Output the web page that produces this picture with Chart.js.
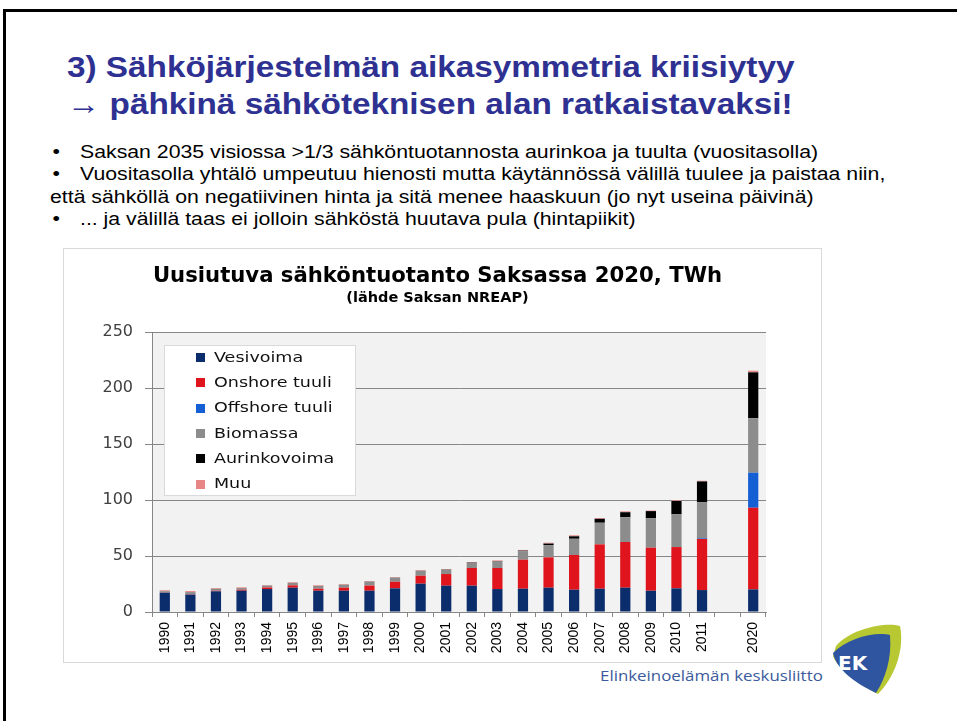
<!DOCTYPE html>
<html>
<head>
<meta charset="utf-8">
<script src="https://cdn.jsdelivr.net/npm/chart.js@4/dist/chart.umd.min.js"></script>
<style>
  html, body { margin: 0; padding: 0; background: #fff; }
  body { width: 957px; height: 721px; position: relative; overflow: hidden; font-family: "Liberation Sans", Arial, sans-serif; }
  #frame { position: absolute; left: 3px; top: 9px; width: 1000px; height: 800px; border-top: 3px solid #000; border-left: 3px solid #000; }
  #title { position: absolute; left: 67px; top: 48px; margin: 0; font: bold 30px "Liberation Sans", Arial, sans-serif; line-height: 37px; color: #2E3192; white-space: nowrap; transform: scaleX(1.11); transform-origin: 0 0; }
  #bullets { position: absolute; left: 50px; top: 141px; font: 17.5px "Liberation Sans", Arial, sans-serif; line-height: 22.4px; color: #000; white-space: nowrap; transform: scaleX(1.215); transform-origin: 0 0; }
  #bullets .b { display: inline-block; width: 24.7px; padding-left: 2px; box-sizing: border-box; }
  #chartbox { position: absolute; left: 63px; top: 248px; width: 757px; height: 413px; border: 1px solid #D9D9D9; background: #fff; }
  #chartbox canvas { display: block; }
  #ektext { position: absolute; left: 600px; top: 665px; font: 15px "Open Sans", sans-serif; color: #3A5A9C; white-space: nowrap; transform: scaleX(1.125); transform-origin: 0 0; }
  #logo { position: absolute; left: 830px; top: 622px; }
</style>
</head>
<body>
<div id="frame"></div>
<h1 id="title">3) Sähköjärjestelmän aikasymmetria kriisiytyy<br>→ pähkinä sähköteknisen alan ratkaistavaksi!</h1>
<div id="bullets">
  <div><span class="b">•</span>Saksan 2035 visiossa &gt;1/3 sähköntuotannosta aurinkoa ja tuulta (vuositasolla)</div>
  <div><span class="b">•</span>Vuositasolla yhtälö umpeutuu hienosti mutta käytännössä välillä tuulee ja paistaa niin,</div>
  <div>että sähköllä on negatiivinen hinta ja sitä menee haaskuun (jo nyt useina päivinä)</div>
  <div><span class="b">•</span>... ja välillä taas ei jolloin sähköstä huutava pula (hintapiikit)</div>
</div>
<div id="chartbox"><canvas id="c" width="757" height="413"></canvas></div>
<div id="ektext">Elinkeinoelämän keskusliitto</div>
<svg id="logo" width="76" height="76" viewBox="0 0 76 76">
  <path d="M6,24 C22,6 56,0 70,4 C75,28 64,56 48,72 C32,64 8,48 3,34 Z" fill="#B7C832"/>
  <path d="M3,31 C17,16 46,9 60,13 C62,37 55,57 46,71 C31,64 7,50 3,31 Z" fill="#2F54A0"/>
  <text x="8" y="48" font-family="DejaVu Sans" font-weight="bold" font-size="20" fill="#fff">EK</text>
</svg>
<script>
// ---- data ----
const categories = ["1990","1991","1992","1993","1994","1995","1996","1997","1998","1999","2000","2001","2002","2003","2004","2005","2006","2007","2008","2009","2010","2011","","2020"];
const seriesNames = ["Vesivoima","Onshore tuuli","Offshore tuuli","Biomassa","Aurinkovoima","Muu"];
const vesivoima    = [17.2,15.5,18.5,19.0,20.5,21.7,19.0,19.0,19.0,21.1,25.3,23.5,23.5,20.5,20.8,21.7,19.9,20.8,21.7,19.0,21.1,19.6,null,20.2];
const onshoreTuuli = [0.1,0.3,0.5,0.9,1.4,2.1,1.8,2.7,4.6,5.9,7.1,10.4,15.8,18.8,25.9,27.1,31.0,39.6,40.8,38.4,36.9,45.6,null,72.9];
const offshoreTuuli= [0,0,0,0,0,0,0,0,0,0,0,0,0,0,0,0,0,0,0,0,0,0.6,null,31.3];
const biomassa     = [1.3,2.0,1.8,1.5,1.7,2.2,2.5,2.7,3.4,3.6,4.3,3.8,4.5,5.8,7.5,11.0,14.5,19.3,22.1,26.2,29.2,32.1,null,48.6];
const aurinkovoima = [0,0,0,0,0,0,0,0,0.1,0.1,0.1,0.2,0.3,0.4,0.6,1.3,2.2,3.5,4.5,6.5,11.9,18.7,null,41.0];
const muu          = [0.8,0.9,0.6,0.6,0.5,0.6,0.6,0.6,0.6,0.5,0.5,0.5,0.5,0.6,0.6,0.8,0.9,0.7,0.8,0.5,0.6,0.6,null,1.5];
const yTicks = [0,50,100,150,200,250];
const chartTitle = "Uusiutuva sähköntuotanto Saksassa 2020, TWh";
const chartSubtitle = "(lähde Saksan NREAP)";

const colors = ["#0B2D6C","#E0141C","#145FD4","#8C8C8C","#000000","#E88585"];
const seriesData = [vesivoima, onshoreTuuli, offshoreTuuli, biomassa, aurinkovoima, muu];

const plotBg = {
  id: 'plotBg',
  beforeDraw(chart) {
    const {ctx, chartArea: a} = chart;
    ctx.save();
    ctx.fillStyle = '#F2F2F2';
    ctx.fillRect(a.left, a.top, a.right - a.left, a.bottom - a.top);
    ctx.restore();
  }
};

const innerLegend = {
  id: 'innerLegend',
  afterDatasetsDraw(chart) {
    const {ctx, chartArea: a} = chart;
    const x = a.left + 12, y = a.top + 13, w = 192, h = 151;
    ctx.save();
    ctx.fillStyle = '#fff';
    ctx.fillRect(x, y, w, h);
    ctx.strokeStyle = '#D9D9D9';
    ctx.lineWidth = 1;
    ctx.strokeRect(x + 0.5, y + 0.5, w - 1, h - 1);
    ctx.font = '14.6px "DejaVu Sans"';
    ctx.textBaseline = 'middle';
    chart.data.datasets.forEach((ds, i) => {
      const cy = y + 12.5 + i * 25.3;
      ctx.fillStyle = ds.backgroundColor;
      ctx.fillRect(x + 32, Math.round(cy - 4.5), 9, 9);
      ctx.fillStyle = '#111';
      ctx.save();
      ctx.translate(x + 50, cy + 0.5);
      ctx.scale(1.2, 1);
      ctx.fillText(ds.label, 0, 0);
      ctx.restore();
    });
    ctx.restore();
  }
};

new Chart(document.getElementById('c'), {
  type: 'bar',
  data: {
    labels: categories,
    datasets: seriesNames.map((n, i) => ({
      label: n,
      data: seriesData[i],
      backgroundColor: colors[i],
      borderWidth: 0,
      barPercentage: 0.4,
      categoryPercentage: 1.0
    }))
  },
  options: {
    responsive: false,
    animation: false,
    devicePixelRatio: 1,
    layout: { padding: { top: 14.7, left: 0, right: 10, bottom: 0 } },
    plugins: {
      legend: { display: false },
      tooltip: { enabled: false },
      title: {
        display: true, text: chartTitle, color: '#000',
        font: { family: 'DejaVu Sans', size: 21.2, weight: 'bold', lineHeight: 1.2 },
        padding: { top: 0, bottom: 0 }
      },
      subtitle: {
        display: true, text: chartSubtitle, color: '#000',
        font: { family: 'DejaVu Sans', size: 14.5, weight: 'bold', lineHeight: 1.2 },
        padding: { top: 0, bottom: 25.5 }
      }
    },
    scales: {
      x: {
        stacked: true,
        afterFit(s) { s.height = 50; },
        grid: { offset: true, drawOnChartArea: false, drawTicks: true, tickLength: 5, color: '#868686' },
        border: { display: true, color: '#868686' },
        ticks: {
          autoSkip: false, minRotation: 90, maxRotation: 90, padding: 5,
          color: '#000', font: { family: 'Liberation Sans', size: 14 }
        }
      },
      y: {
        stacked: true, min: 0, max: 250,
        afterFit(s) { s.width = 88; },
        afterBuildTicks(s) { s.ticks = yTicks.map(v => ({ value: v })); },
        grid: { color: '#868686', tickLength: 7 },
        border: { display: true, color: '#868686' },
        ticks: { padding: 12, color: '#404040', font: { family: 'DejaVu Sans', size: 16 } }
      },
      y2: {
        position: 'right', display: true,
        afterFit(s) { s.width = 45; },
        grid: { display: false },
        border: { display: false },
        ticks: { display: false }
      }
    }
  },
  plugins: [plotBg, innerLegend]
});
</script>
</body>
</html>
